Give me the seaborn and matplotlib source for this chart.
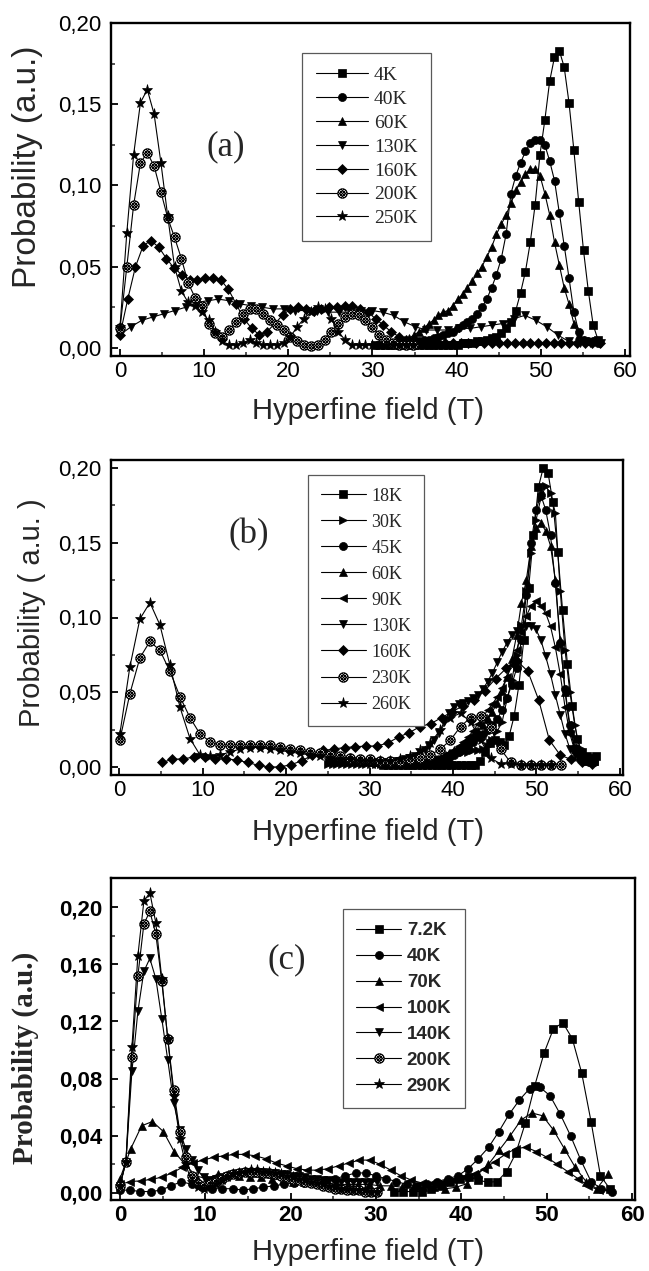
import numpy as np
import matplotlib
matplotlib.use("Agg")
import matplotlib.pyplot as plt
from matplotlib.path import Path
from matplotlib.ticker import MultipleLocator, FuncFormatter
import seaborn as sns

# ---------------- data (hyperfine field grid start, step, probabilities) ----------------
# Panel (a)
a_labels = ["4K", "40K", "60K", "130K", "160K", "200K", "250K"]
a_4K_x0, a_4K_dx = 30.35, 0.575
a_4K = [.002]*18 + [.003, .003, .003, .004, .004, .005, .006, .007, .009, .012, .016, .023,
        .034, .047, .065, .088, .119, .140, .164, .179, .183, .173, .151, .122, .090, .060,
        .035, .014, .005]
a_40K_x0, a_40K_dx = 33.23, 0.575
a_40K = [.003, .003, .003, .004, .004, .005, .005, .006, .007, .008, .009, .010, .012, .014,
         .016, .018, .021, .025, .030, .037, .045, .055, .070, .095, .106, .114, .121, .126,
         .128, .128, .125, .115, .103, .083, .063, .043, .022, .010, .005, .004, .004, .003]
a_60K_x0, a_60K_dx = 33.23, 0.575
a_60K = [.004, .005, .006, .008, .010, .012, .015, .017, .020, .022, .023, .026, .030, .033,
         .037, .041, .046, .050, .056, .062, .070, .076, .082, .089, .097, .102, .107, .110,
         .110, .106, .095, .082, .065, .051, .037, .027, .015, .008, .005, .004, .004, .004]
a_130K_x0, a_130K_dx = 0.0, 1.3
a_130K = [.008, .013, .017, .019, .021, .023, .025, .028, .029, .030, .029, .027, .026, .025,
          .024, .024, .023, .023, .023, .022, .022, .022, .023, .023, .022, .020, .016, .013,
          .011, .011, .011, .012, .012, .013, .014, .015, .018, .020, .017, .013, .008, .004,
          .003, .003, .003]
a_160K_x0, a_160K_dx = 0.0, 0.92
a_160K = [.008, .030, .050, .063, .066, .062, .055, .049, .045, .042, .042, .043, .043, .042,
          .036, .027, .018, .012, .008, .010, .015, .020, .024, .025, .024, .023, .024, .025,
          .025, .026, .026, .024, .022, .018, .014, .010, .007, .005, .004] + [.003]*24
a_200K_x0, a_200K_dx = 0.0, 0.81
a_200K = [.012, .050, .088, .114, .120, .112, .096, .080, .068, .055, .040, .031, .026, .015,
          .009, .007, .011, .016, .021, .024, .024, .021, .017, .014, .011, .007, .004, .002,
          .001, .002, .005, .010, .015, .019, .021, .020, .017, .013, .008, .005, .003, .002,
          .002, .002]
a_250K_x0, a_250K_dx = 0.0, 0.81
a_250K = [.013, .071, .119, .151, .159, .144, .114, .081, .050, .035, .028, .026, .022, .017,
          .010, .004, .002, .002, .003, .005, .003, .002, .002, .002, .003, .007, .013, .018,
          .022, .025, .024, .018, .010, .005] + [.002]*10

# Panel (b)
b_labels = ["18K", "30K", "45K", "60K", "90K", "130K", "160K", "230K", "260K"]
b_18K_x0, b_18K_dx = 31.66, 0.58
b_18K = [.001]*20 + [.004, .010, .016, .018, .017, .015, .021, .034, .055, .085, .120, .155,
                     .187, .200, .197, .177, .144, .105, .069, .041, .019, .010, .007, .006, .007]
b_30K_x0, b_30K_dx = 25.0, 0.58
b_30K = [.002]*22 + [.004, .005, .006, .008, .009, .010, .010, .010, .011, .011, .012, .014,
                     .018, .024, .030, .045, .058, .075, .095, .118, .143, .165, .180, .188,
                     .183, .170, .118, .078, .050, .028, .013, .008, .006, .004]
b_45K_x0, b_45K_dx = 37.76, 0.58
b_45K = [.003, .004, .005, .006, .008, .010, .012, .014, .017, .020, .022, .025, .028, .032,
         .038, .046, .055, .066, .085, .115, .150, .172, .182, .172, .155, .123, .083, .052,
         .028, .013, .006, .004, .003, .003]
b_60K_x0, b_60K_dx = 37.76, 0.58
b_60K = [.004, .005, .007, .009, .011, .013, .015, .018, .021, .024, .028, .032, .037, .043,
         .051, .060, .072, .088, .110, .125, .148, .160, .163, .158, .148, .125, .085, .050,
         .026, .012, .007, .005, .004, .004]
b_90K_x0, b_90K_dx = 30.22, 0.58
b_90K = [.002, .002, .002, .002, .002, .003, .003, .003, .003, .004, .004, .004, .005, .005,
         .006, .007, .009, .011, .014, .017, .020, .024, .029, .033, .038, .042, .047, .053,
         .060, .068, .078, .090, .101, .108, .111, .108, .103, .094, .080, .062, .040, .022,
         .011, .007, .005, .005, .004]
b_130K_x0, b_130K_dx = 25.0, 0.58
b_130K = [.003]*14 + [.004, .004, .005, .006, .007, .009, .011, .014, .018, .023, .030, .036,
                      .040, .042, .043, .044, .046, .048, .052, .057, .063, .070, .077, .083,
                      .088, .091, .093, .094, .094, .092, .085, .074, .062, .048, .035, .022,
                      .012, .008, .006, .005, .004, .004]
b_160K_x0, b_160K_dx = 5.1, 1.29
b_160K = [.003, .005, .0055, .0065, .0065, .0055, .0055, .0045, .003, .001, .000, .000, .0015,
          .004, .008, .011, .012, .013, .0135, .014, .014, .016, .020, .023, .027, .029, .033,
          .037, .041, .045, .051, .059, .066, .071, .064, .045, .018, .008, .005, .003, .002]
b_230K_x0, b_230K_dx = 0.1, 1.2
b_230K = [.018, .049, .073, .084, .078, .064, .047, .033, .022, .017, .015, .0145, .015, .015,
          .015, .0145, .0135, .012, .011, .010, .009, .008, .007, .006, .0055, .005, .004, .004,
          .004, .005, .006, .008, .012, .018, .027, .033, .034, .026, .012, .003, .001, .001,
          .001, .001, .001]
b_260K_x0, b_260K_dx = 0.1, 1.2
b_260K = [.022, .067, .099, .110, .095, .068, .040, .019, .008, .007, .008, .010, .012, .013,
          .013, .012, .011, .010, .009, .008, .007, .006, .005, .005, .004, .004, .004, .004,
          .005, .007, .011, .016, .025, .033, .036, .030, .018, .006, .002, .002, .001, .001,
          .001, .001]

# Panel (c)
c_labels = ["7.2K", "40K", "70K", "100K", "140K", "200K", "290K"]
c_7K_x0, c_7K_dx = 32.1, 1.1
c_7K = [.001, .001, .001, .001, .003, .005, .008, .010, .011, .009, .0075, .008, .015, .028,
        .049, .075, .098, .115, .119, .108, .084, .050, .012, .003]
c_40K_x0, c_40K_dx = 0.0, 1.2
c_40K = [.002, .002, .001, .001, .002, .005, .008, .006, .004, .003, .003, .003, .002, .003,
         .004, .005, .006, .007, .007, .008, .009, .010, .012, .014, .014, .012, .010, .008,
         .006, .005, .006, .008, .010, .012, .017, .024, .032, .043, .055, .065, .073, .074,
         .068, .055, .040, .023, .008, .003, .001]
c_70K_x0, c_70K_dx = 0.0, 1.27
c_70K = [.010, .031, .047, .050, .043, .029, .020, .012, .010, .013, .013, .012, .011, .011,
         .010, .009, .008, .008, .007, .007, .006, .006, .006, .006, .005, .005, .004, .004,
         .004, .004, .003, .004, .0065, .013, .020, .030, .040, .051, .056, .054, .044, .031,
         .018, .008, .003, .013]
c_100K_x0, c_100K_dx = 0.0, 1.22
c_100K = [.006, .008, .0085, .0095, .011, .014, .018, .021, .023, .025, .026, .027, .027, .026,
          .024, .021, .019, .017, .016, .016, .017, .019, .021, .023, .023, .020, .016, .012,
          .009, .007, .007, .008, .009, .011, .013, .017, .022, .027, .031, .032, .029, .025,
          .020, .015, .010, .005, .002, .002]
c_140K_x0, c_140K_dx = 0.0, 0.7
c_140K = [.005, .022, .085, .127, .155, .164, .150, .122, .093, .063, .044, .031, .023, .016,
          .011, .009, .010, .011, .012, .013, .014, .015, .015, .015, .015, .014, .014, .013,
          .013, .012, .012, .011, .010, .010, .009, .009, .008, .008, .008, .008, .008, .008,
          .008, .008]
c_200K_x0, c_200K_dx = 0.0, 0.7
c_200K = [.005, .022, .095, .152, .188, .197, .181, .148, .108, .072, .043, .025, .012, .006,
          .005, .006, .008, .010, .012, .013, .014, .015, .015, .015, .014, .014, .013, .012,
          .011, .010, .009, .008, .007, .006, .005, .004, .003, .003, .002, .002, .002, .001,
          .001, .001]
c_290K_x0, c_290K_dx = 0.0, 0.7
c_290K = [.005, .022, .102, .166, .204, .210, .189, .150, .108, .068, .038, .020, .008, .004,
          .003, .004, .006, .009, .011, .013, .014, .015, .016, .016, .015, .015, .014, .013,
          .012, .011, .010, .009, .008, .007, .006, .005, .004, .003, .003, .002, .002, .002,
          .001, .001]

# ---------------- styling ----------------
sns.set_theme(style="ticks")
plt.rcParams["font.family"] = ["Liberation Sans", "DejaVu Sans"]

W, H = 649, 1271
fig = plt.figure(figsize=(W / 100, H / 100), dpi=100)
fig.patch.set_facecolor("white")


def hatched_circle():
    t = np.linspace(0, 2 * np.pi, 41)
    verts = np.c_[np.cos(t), np.sin(t)].tolist()
    codes = [Path.MOVETO] + [Path.LINETO] * (len(t) - 1)
    for c in (-0.6, 0.0, 0.6):
        r = np.sqrt(2 - c * c)
        x1, x2 = (-c - r) / 2, (-c + r) / 2
        verts += [[x1, x1 + c], [x2, x2 + c]]
        codes += [Path.MOVETO, Path.LINETO]
        x1, x2 = (c - r) / 2, (c + r) / 2
        verts += [[x1, -x1 + c], [x2, -x2 + c]]
        codes += [Path.MOVETO, Path.LINETO]
    return Path(verts, codes)


HC = hatched_circle()


def px_axes(l, t, r, b):
    return fig.add_axes([l / W, 1 - b / H, (r - l) / W, (b - t) / H])


def draw(ax, x0, dx, vals, marker, label, ms=5.8):
    x = np.round(x0 + dx * np.arange(len(vals)), 3)
    hollow = marker is HC
    sns.lineplot(x=x, y=np.asarray(vals, dtype=float), ax=ax, color="black",
                 linewidth=0.8, marker=marker, markersize=ms,
                 markerfacecolor="white" if hollow else "black",
                 markeredgecolor="black", markeredgewidth=0.7 if hollow else 0.5,
                 label=label, estimator=None, sort=False)


def comma(v, pos):
    return f"{v:.2f}".replace(".", ",")


def style_axes(ax, xlim, ylim, ymajor, yminor, bold=False, tsize=16, ypad=7):
    ax.set_xlim(*xlim)
    ax.set_ylim(*ylim)
    ax.xaxis.set_major_locator(MultipleLocator(10))
    ax.xaxis.set_minor_locator(MultipleLocator(5))
    ax.yaxis.set_major_locator(MultipleLocator(ymajor))
    ax.yaxis.set_minor_locator(MultipleLocator(yminor))
    ax.yaxis.set_major_formatter(FuncFormatter(comma))
    ax.tick_params(which="major", direction="in", length=5, width=1.3,
                   top=False, right=False, labelsize=tsize, colors="black")
    ax.tick_params(which="minor", direction="in", length=3, width=1.1,
                   top=False, right=False)
    ax.tick_params(axis="y", which="major", pad=ypad)
    for s in ax.spines.values():
        s.set_linewidth(1.7)
        s.set_color("black")
    for lab in ax.get_xticklabels() + ax.get_yticklabels():
        lab.set_fontweight("bold" if bold else "normal")
    ax.set_xlabel("")
    ax.set_ylabel("")
    ax.set_facecolor("white")


def legend(ax, x, y, fam, weight, size, spacing, hl):
    leg = ax.legend(loc="upper left", bbox_to_anchor=(x / W, 1 - y / H),
                    bbox_transform=fig.transFigure, frameon=True, fancybox=False,
                    edgecolor="0.35", framealpha=1, borderaxespad=0, numpoints=1,
                    handlelength=hl, handletextpad=0.3, labelspacing=spacing,
                    borderpad=0.7, prop={"family": fam, "weight": weight, "size": size})
    leg.get_frame().set_linewidth(0.9)
    return leg


# ---------------- panel (a) ----------------
axa = px_axes(111, 23, 630, 356)
draw(axa, a_4K_x0, a_4K_dx, a_4K, "s", a_labels[0])
draw(axa, a_40K_x0, a_40K_dx, a_40K, "o", a_labels[1])
draw(axa, a_60K_x0, a_60K_dx, a_60K, "^", a_labels[2], 6.3)
draw(axa, a_130K_x0, a_130K_dx, a_130K, "v", a_labels[3], 6.3)
draw(axa, a_160K_x0, a_160K_dx, a_160K, "D", a_labels[4], 5.2)
draw(axa, a_200K_x0, a_200K_dx, a_200K, HC, a_labels[5], 6.8)
draw(axa, a_250K_x0, a_250K_dx, a_250K, "*", a_labels[6], 8)
style_axes(axa, (-1.07, 60.6), (-0.005, 0.20), 0.05, 0.025)
legend(axa, 302, 53, ["Liberation Serif"], "normal", 14, 0.32, 2.7)

# ---------------- panel (b) ----------------
axb = px_axes(111, 460, 623, 775)
draw(axb, b_18K_x0, b_18K_dx, b_18K, "s", b_labels[0])
draw(axb, b_30K_x0, b_30K_dx, b_30K, ">", b_labels[1], 6.3)
draw(axb, b_45K_x0, b_45K_dx, b_45K, "o", b_labels[2])
draw(axb, b_60K_x0, b_60K_dx, b_60K, "^", b_labels[3], 6.3)
draw(axb, b_90K_x0, b_90K_dx, b_90K, "<", b_labels[4], 6.3)
draw(axb, b_130K_x0, b_130K_dx, b_130K, "v", b_labels[5], 6.3)
draw(axb, b_160K_x0, b_160K_dx, b_160K, "D", b_labels[6], 5.2)
draw(axb, b_230K_x0, b_230K_dx, b_230K, HC, b_labels[7], 6.8)
draw(axb, b_260K_x0, b_260K_dx, b_260K, "*", b_labels[8], 8)
style_axes(axb, (-0.96, 60.36), (-0.0054, 0.2054), 0.05, 0.025)
legend(axb, 308, 475, ["Liberation Serif"], "normal", 13, 0.5, 2.5)

# ---------------- panel (c) ----------------
axc = px_axes(111, 878, 635, 1200)
draw(axc, c_7K_x0, c_7K_dx, c_7K, "s", c_labels[0])
draw(axc, c_40K_x0, c_40K_dx, c_40K, "o", c_labels[1])
draw(axc, c_70K_x0, c_70K_dx, c_70K, "^", c_labels[2], 6.3)
draw(axc, c_100K_x0, c_100K_dx, c_100K, "<", c_labels[3], 6.3)
draw(axc, c_140K_x0, c_140K_dx, c_140K, "v", c_labels[4], 6.3)
draw(axc, c_200K_x0, c_200K_dx, c_200K, HC, c_labels[5], 6.8)
draw(axc, c_290K_x0, c_290K_dx, c_290K, "*", c_labels[6], 8)
style_axes(axc, (-1.05, 60.35), (-0.0049, 0.2203), 0.04, 0.02, bold=True, tsize=16, ypad=6)
legend(axc, 343, 909, ["Liberation Sans"], "bold", 13.5, 0.47, 2.4)

# ---------------- labels ----------------
def ftext(x, y, s, **kw):
    fig.text(x / W, 1 - y / H, s, ha="center", va="center", **kw)

ftext(28, 167, "Probability (a.u.)", rotation=90, fontsize=24, family=["Liberation Sans"])
ftext(32, 613, "Probability ( a.u. )", rotation=90, fontsize=21, family=["Liberation Sans"])
ftext(25, 1058, "Probability (a.u.)", rotation=90, fontsize=21, fontweight="bold",
      family=["Liberation Serif"])
for yy in (411, 832, 1252):
    ftext(368, yy, "Hyperfine field (T)", fontsize=21, family=["Liberation Sans"])
ftext(226, 147, "(a)", fontsize=25, family=["Liberation Serif"])
ftext(249, 535, "(b)", fontsize=25, family=["Liberation Serif"])
ftext(287, 960, "(c)", fontsize=25, family=["Liberation Serif"])

fig.savefig("out.png", dpi=100, facecolor="white")
